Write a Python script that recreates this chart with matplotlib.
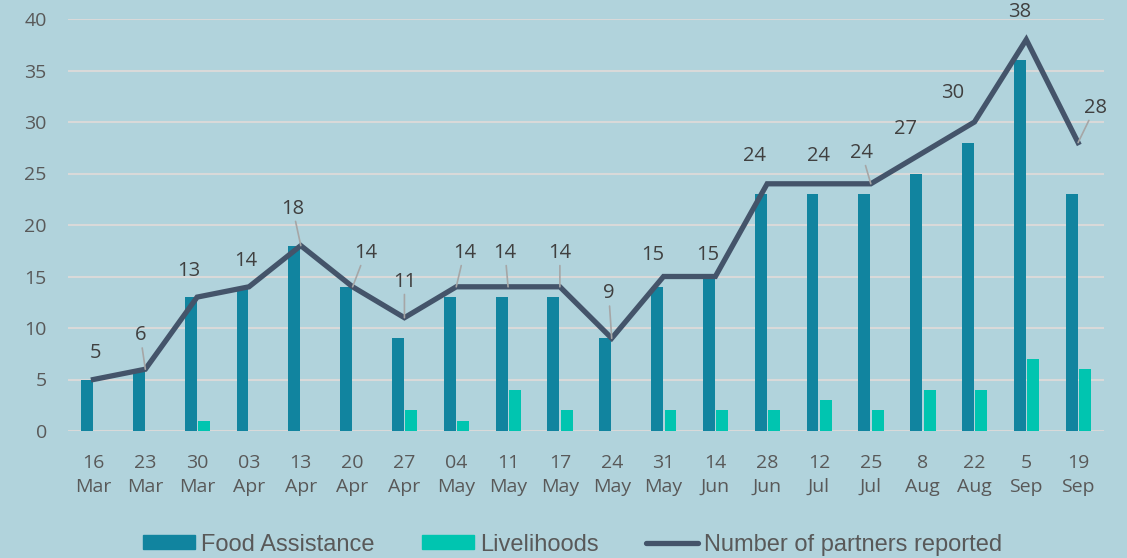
import matplotlib
matplotlib.use("Agg")
import matplotlib.pyplot as plt
from matplotlib.lines import Line2D
from matplotlib.patches import Patch
import numpy as np

categories = ["16\nMar", "23\nMar", "30\nMar", "03\nApr", "13\nApr", "20\nApr", "27\nApr",
              "04\nMay", "11\nMay", "17\nMay", "24\nMay", "31\nMay", "14\nJun", "28\nJun",
              "12\nJul", "25\nJul", "8\nAug", "22\nAug", "5\nSep", "19\nSep"]
food_assistance = [5, 6, 13, 14, 18, 14, 9, 13, 13, 13, 9, 14, 15, 23, 23, 23, 25, 28, 36, 23]
livelihoods = [0, 0, 1, 0, 0, 0, 2, 1, 4, 2, 0, 2, 2, 2, 3, 2, 4, 4, 7, 6]
partners = [5, 6, 13, 14, 18, 14, 11, 14, 14, 14, 9, 15, 15, 24, 24, 24, 27, 30, 38, 28]
y_ticks = [0, 5, 10, 15, 20, 25, 30, 35, 40]

# label offsets (pixels) and whether a leader line is drawn
label_offsets = [(1.5, 26), (-5, 34), (-8, 26), (-3, 26), (-8, 37), (13, 34), (0, 36),
                 (8, 34), (-3, 34), (0, 34), (-3, 45), (-11, 21), (-8, 21), (-13, 28),
                 (0, 28), (-9, 31), (-17, 24), (-22, 29), (-7, 28), (17, 35)]
leaders = [False, True, False, False, True, True, True, True, True, True, True,
           False, False, False, False, True, False, False, False, True]

BG = "#B1D3DC"
FOOD = "#11849F"
LIV = "#00C5B0"
LINE = "#44546A"
GRID = "#D9D9D9"
TICK = "#595959"
LAB = "#404040"

fig = plt.figure(figsize=(11.27, 5.58), dpi=100, facecolor=BG)
ax = fig.add_axes([67.6 / 1127, 1 - 431 / 558, (1104 - 67.6) / 1127, (431 - 19) / 558])
ax.set_facecolor(BG)

x = np.arange(len(categories))
w = 0.23
ax.bar(x - 0.125, food_assistance, width=w, color=FOOD, zorder=2)
ax.bar(x + 0.135, livelihoods, width=w, color=LIV, zorder=2)
ax.plot(x, partners, color=LINE, lw=3.8, zorder=3, solid_joinstyle="miter")

for i, v in enumerate(partners):
    dx, dy = label_offsets[i]
    kw = {}
    if leaders[i]:
        kw["arrowprops"] = dict(arrowstyle="-", color="#A6A6A6", lw=1.2, shrinkA=0, shrinkB=0)
    ax.annotate(str(v), xy=(x[i], v), xytext=(dx, dy), textcoords="offset pixels",
                ha="center", va="center", fontsize=14.5, color=LAB, family="Open Sans",
                annotation_clip=False, zorder=4, **kw)

ax.set_xlim(-0.5, len(categories) - 0.5)
ax.set_ylim(0, 40)
ax.set_yticks(y_ticks)
ax.set_xticks(x)
ax.set_xticklabels(categories, linespacing=1.45)
ax.yaxis.grid(True, color=GRID, lw=1.5, zorder=0)
ax.set_axisbelow(True)
for s in ax.spines.values():
    s.set_visible(False)
ax.tick_params(axis="both", length=0, labelsize=14, labelcolor=TICK)
ax.tick_params(axis="y", pad=15)
ax.tick_params(axis="x", pad=16.5)
for t in ax.get_xticklabels() + ax.get_yticklabels():
    t.set_family("Open Sans")

handles = [Patch(color=FOOD), Patch(color=LIV),
           Line2D([0], [0], color=LINE, lw=3.8, solid_capstyle="round")]
labels = ["Food Assistance", "Livelihoods", "Number of partners reported"]
fig.legend(handles, labels, loc="center", bbox_to_anchor=(0.508, 0.024), ncol=3,
           frameon=False, handlelength=2.2, handleheight=0.5, handletextpad=0.25,
           columnspacing=2.0, prop={"family": "Liberation Sans", "size": 17},
           labelcolor=TICK, borderpad=0.2)

fig.savefig("out.png", dpi=100, facecolor=BG)
